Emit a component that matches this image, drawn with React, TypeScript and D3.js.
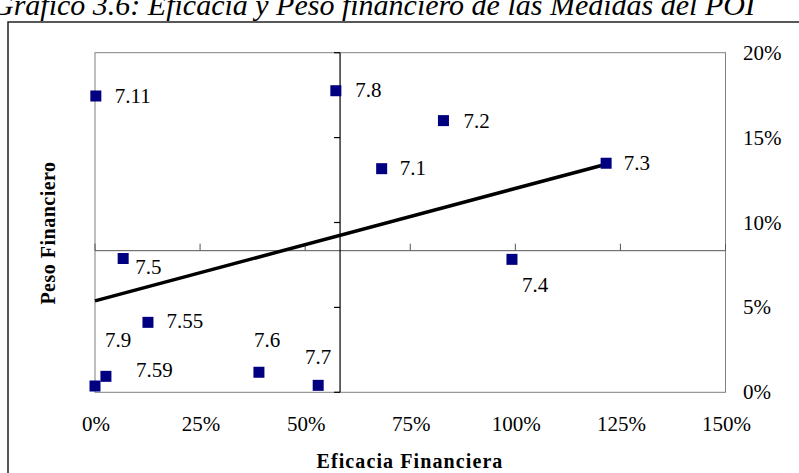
import React from "react";
import * as d3 from "d3";

// ---- data ----
const categories = ["7.1", "7.11", "7.2", "7.3", "7.4", "7.5", "7.55", "7.59", "7.6", "7.7", "7.8", "7.9"];
const eficacia = [68.2, 0.2, 82.9, 121.6, 99.2, 6.7, 12.6, 2.6, 39.0, 53.1, 57.3, 0.0];
const peso = [13.17, 17.45, 16.0, 13.49, 7.83, 7.88, 4.12, 0.94, 1.18, 0.41, 17.76, 0.37];
const xTicks = [0, 25, 50, 75, 100, 125, 150];
const yTicks = [0, 5, 10, 15, 20];
const xCross = 58.3; // where vertical axis crosses
const yCross = 8.34; // where horizontal axis crosses
const chartTitle = "Gráfico 3.6: Eficacia y Peso financiero de las Medidas del POI";
const xTitle = "Eficacia Financiera";
const yTitle = "Peso Financiero";

// label placement (layout only)
const labelOffset: Record<string, [number, number]> = {
  "7.1": [18, 6.5],
  "7.11": [19, 7],
  "7.2": [20, 7.5],
  "7.3": [17.5, 7],
  "7.4": [10, 32.5],
  "7.5": [12, 15.5],
  "7.55": [18.5, 6],
  "7.59": [30, 0.5],
  "7.9": [10, -38.7],
  "7.6": [-5, -25],
  "7.7": [-13.3, -21],
  "7.8": [19.3, 6.6],
};

const FONT = "'Liberation Serif', 'Times New Roman', serif";

export default function App() {
  const W = 799, H = 473;
  const x = d3.scaleLinear().domain([0, 150]).range([95, 725.5]);
  const y = d3.scaleLinear().domain([0, 20]).range([392.3, 52.7]);

  const pts = categories.map((c, i) => ({ c, xv: eficacia[i], yv: peso[i] }));
  const mx = d3.mean(pts, p => p.xv)!;
  const my = d3.mean(pts, p => p.yv)!;
  const sxy = d3.sum(pts, p => (p.xv - mx) * (p.yv - my));
  const sxx = d3.sum(pts, p => (p.xv - mx) ** 2);
  const slope = sxy / sxx;
  const intercept = my - slope * mx;
  const [xMin, xMax] = d3.extent(pts, p => p.xv) as [number, number];
  const trend = d3.line<number>().x(v => x(v)).y(v => y(intercept + slope * v));

  const [x0, x1] = x.range();
  const [y0, y1] = y.range();
  const ms = 11;

  return (
    <svg width={W} height={H} style={{ position: "absolute", left: 0, top: 0, background: "#fff" }} fontFamily={FONT}>
      <rect x={0} y={0} width={W} height={H} fill="#fff" />
      {/* caption, cut at the top edge as in the source */}
      <text x={-8} y={15} fontSize={30} fontStyle="italic" fill="#000">{chartTitle}</text>
      {/* outer frame */}
      <rect x={8} y={22} width={900} height={700} fill="#fff" stroke="#222" strokeWidth={1.5} />

      {/* plot area border */}
      <rect x={x0} y={y1} width={x1 - x0} height={y0 - y1} fill="none" stroke="#808080" strokeWidth={1} />

      {/* horizontal axis */}
      <line x1={x0} x2={x1} y1={y(yCross)} y2={y(yCross)} stroke="#555" strokeWidth={1} />
      {xTicks.map(t => (
        <line key={"xt" + t} x1={x(t)} x2={x(t)} y1={y(yCross)} y2={y(yCross) - 7} stroke="#555" strokeWidth={1} />
      ))}
      {/* vertical axis */}
      <line x1={x(xCross)} x2={x(xCross)} y1={y1} y2={y0} stroke="#000" strokeWidth={1.2} />
      {yTicks.map(t => (
        <line key={"yt" + t} x1={x(xCross) - 6} x2={x(xCross)} y1={y(t)} y2={y(t)} stroke="#000" strokeWidth={1.2} />
      ))}

      {/* trendline */}
      <path d={trend([xMin, xMax]) || ""} fill="none" stroke="#000" strokeWidth={3.5} />

      {/* markers */}
      {pts.map(p => (
        <rect key={"m" + p.c} x={x(p.xv) - ms / 2} y={y(p.yv) - ms / 2} width={ms} height={ms} fill="#000080" />
      ))}
      {/* labels */}
      {pts.map(p => {
        const [dx, dy] = labelOffset[p.c] || [18, 7];
        return (
          <text key={"l" + p.c} x={x(p.xv) + dx} y={y(p.yv) + dy} fontSize={21} fill="#000">{p.c}</text>
        );
      })}

      {/* x tick labels */}
      {xTicks.map(t => (
        <text key={"xl" + t} x={x(t) + 1} y={431} fontSize={21} textAnchor="middle" fill="#000">{t + "%"}</text>
      ))}
      {/* y tick labels (right) */}
      {yTicks.map(t => (
        <text key={"yl" + t} x={743} y={y(t) + 7} fontSize={21} fill="#000">{t + "%"}</text>
      ))}

      {/* axis titles */}
      <text x={410} y={468} fontSize={20} fontWeight="bold" letterSpacing={1.1} textAnchor="middle" fill="#000">{xTitle}</text>
      <text transform="translate(55,233) rotate(-90)" fontSize={20} fontWeight="bold" letterSpacing={0.5} textAnchor="middle" fill="#000">{yTitle}</text>
    </svg>
  );
}
